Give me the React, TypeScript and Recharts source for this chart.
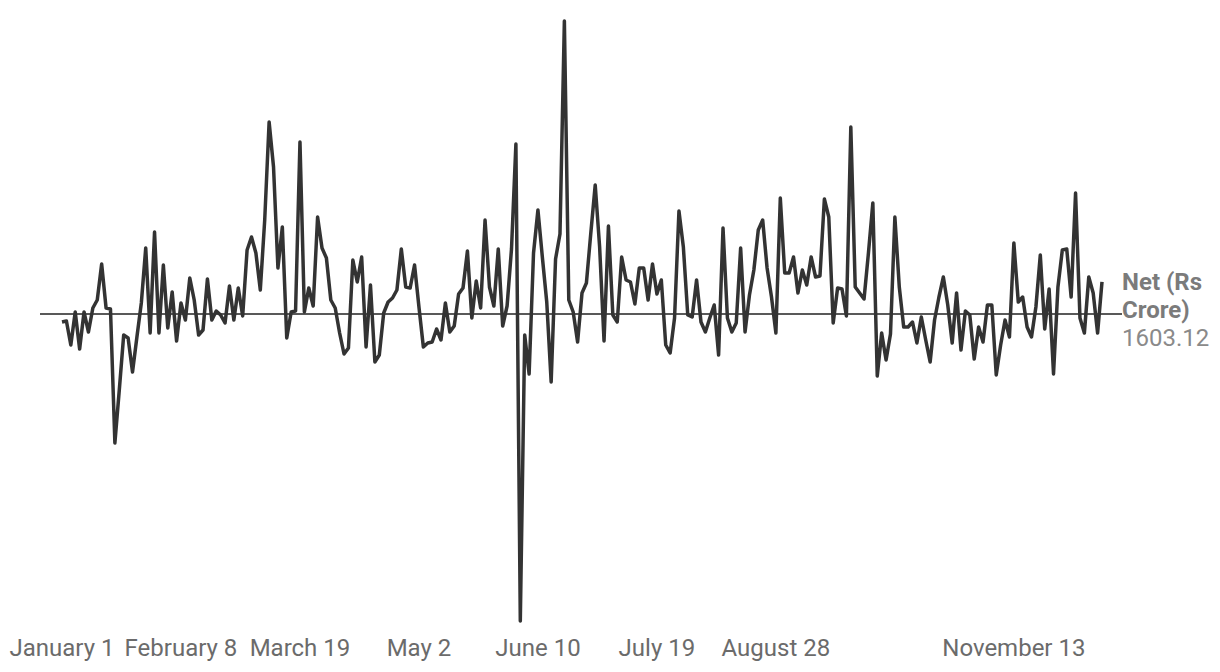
import React from 'react';
import { LineChart, Line, XAxis, YAxis, ReferenceLine } from 'recharts';

// Net flows, Rs crore, one value per trading day
const netValues: number[] = [
  -400, -350, -1550, 100, -1750, 100, -900, 300, 700, 2500,
  300, 250, -6450, -3800, -1050, -1200, -2900, -1150, 550, 3300,
  -950, 4100, -950, 2450, -700, 1100, -1350, 550, -300, 1800,
  700, -1050, -800, 1750, -300, 150, -50, -450, 1400, -300,
  1300, -100, 3200, 3850, 3050, 1200, 4700, 9600, 7350, 2300,
  4350, -1200, 100, 150, 8600, 100, 1300, 400, 4850, 3300,
  2800, 700, 300, -950, -2000, -1700, 2700, 1600, 2850, -1650,
  1450, -2400, -2050, 50, 600, 800, 1200, 3250, 1350, 1300,
  2450, 350, -1650, -1450, -1400, -750, -1300, 550, -900, -600,
  1000, 1300, 3150, -200, 1650, 300, 4700, 1350, 400, 3250,
  -600, 400, 3250, 8500, -15350, -1050, -3000, 3050, 5200, 2850,
  600, -3400, 2750, 4000, 14650, 700, 100, -1400, 1050, 1550,
  4050, 6450, 3350, -1350, 4400, -50, -400, 2850, 1700, 1600,
  500, 2300, 2300, 700, 2500, 1000, 1700, -1550, -1950, -200,
  5150, 3350, -50, -150, 1700, -400, -900, -200, 450, -2050,
  4300, -200, -900, -450, 3300, -900, 950, 2200, 4200, 4700,
  2300, 850, -950, 5800, 2050, 2050, 2850, 1050, 2200, 1450,
  2850, 1850, 1900, 5750, 4850, -450, 1300, 1250, -100, 9350,
  1350, 1050, 750, 3050, 5550, -3100, -950, -2300, -1000, 4850,
  1350, -650, -650, -400, -1450, -150, -1300, -2400, -300, 850,
  1850, 450, -1450, 1050, -1800, 150, -50, -2250, -650, -1400,
  450, 450, -3050, -1550, -300, -1150, 3550, 600, 850, -650,
  -1150, 350, 2950, -750, 1250, -3000, 1350, 3200, 3250, 850,
  6050, -200, -950, 1850, 1050, -950, 1603.12,
];

const tickIndex = [0, 27, 54, 81, 108, 135, 162, 216];
const tickLabels = ['January 1', 'February 8', 'March 19', 'May 2', 'June 10', 'July 19', 'August 28', 'November 13'];

const seriesName = ['Net (Rs', 'Crore)'];

const data = netValues.map((net, idx) => ({ idx, net }));

const FONT = 'Roboto, "Noto Sans", sans-serif';

const EndLabel = (props: any) => {
  const { x, y, index, value } = props;
  if (index !== data.length - 1) return null;
  return (
    <g style={{ fontFamily: FONT, fontSize: 24 }}>
      <text x={x + 20} y={y + 8} fill="#7b7b7b" fontWeight={700}>{seriesName[0]}</text>
      <text x={x + 20} y={y + 36} fill="#7b7b7b" fontWeight={700}>{seriesName[1]}</text>
      <text x={x + 20} y={y + 64} fill="#8a8a8a">{Number(value).toFixed(2)}</text>
    </g>
  );
};

export default function App() {
  return (
    <div style={{ width: 1204, height: 656, fontFamily: FONT }}>
      <LineChart width={1204} height={656} data={data} margin={{ top: 6, right: 90, bottom: 0, left: 32 }}>
        <XAxis
          dataKey="idx"
          type="category"
          ticks={tickIndex}
          interval={0}
          tickFormatter={(v: number) => tickLabels[tickIndex.indexOf(v)] ?? ''}
          axisLine={false}
          tickLine={false}
          tickSize={0}
          tickMargin={5}
          height={30}
          padding={{ left: 22, right: 20 }}
          tick={{ fill: '#6b6b6b', fontSize: 24, fontFamily: FONT }}
        />
        <YAxis hide domain={[-16000, 15000]} />
        <ReferenceLine y={0} stroke="#222" strokeWidth={1.6} ifOverflow="extendDomain" />
        <Line
          type="linear"
          dataKey="net"
          stroke="#333333"
          strokeWidth={3.5}
          strokeLinejoin="round"
          dot={false}
          isAnimationActive={false}
          label={<EndLabel />}
        />
      </LineChart>
    </div>
  );
}
